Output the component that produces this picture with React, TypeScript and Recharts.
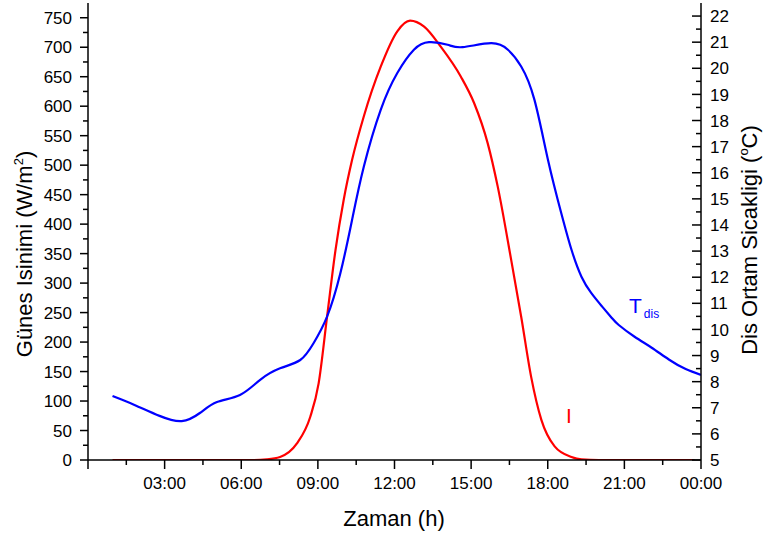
import { LineChart, Line, XAxis, YAxis } from 'recharts'

// outdoor temperature (°C), right axis
const tempHours = [0.96, 1.82, 2.8, 3.67, 4.38, 5.05, 5.95, 6.74, 7.52, 8.31, 8.83, 9.36, 9.88, 10.34, 10.8, 11.46, 12.11, 12.76, 13.35, 14.08, 14.67, 15.78, 16.44, 16.96, 17.48, 18.01, 18.53, 18.93, 19.32, 19.7, 20.11, 20.5, 20.78, 21.4, 22.07, 22.74, 23.4, 24]
const tempValues = [7.45, 7.11, 6.69, 6.49, 6.8, 7.22, 7.49, 8.07, 8.51, 8.83, 9.47, 10.49, 12.15, 14.2, 16.24, 18.41, 19.82, 20.71, 21.0, 20.9, 20.81, 20.96, 20.71, 20.07, 18.79, 16.49, 14.45, 13.05, 12.02, 11.4, 10.9, 10.45, 10.17, 9.72, 9.3, 8.85, 8.48, 8.26]

// solar radiation (W/m2), left axis
const radHours = [0.96, 3, 5, 6.5, 7.0, 7.52, 8.18, 8.7, 9.03, 9.36, 9.69, 10.01, 10.34, 10.8, 11.46, 12.11, 12.61, 13.16, 13.81, 14.6, 15.12, 15.65, 16.04, 16.57, 16.96, 17.35, 17.75, 18.27, 18.93, 19.32, 20, 22, 23.75]
const radValues = [0, 0, 0, 0, 1, 5, 28, 73, 130, 243, 356, 441, 509, 583, 667, 727, 745, 735, 701, 650, 605, 537, 464, 339, 243, 141, 68, 23, 5, 1, 0, 0, 0]

const xTicks = [0, 1.5, 3, 4.5, 6, 7.5, 9, 10.5, 12, 13.5, 15, 16.5, 18, 19.5, 21, 22.5, 24]
const xLabels: Record<number, string> = { 3: '03:00', 6: '06:00', 9: '09:00', 12: '12:00', 15: '15:00', 18: '18:00', 21: '21:00', 24: '00:00' }
const leftTicks = [0, 25, 50, 75, 100, 125, 150, 175, 200, 225, 250, 275, 300, 325, 350, 375, 400, 425, 450, 475, 500, 525, 550, 575, 600, 625, 650, 675, 700, 725, 750]
const rightTicks = [5, 5.5, 6, 6.5, 7, 7.5, 8, 8.5, 9, 9.5, 10, 10.5, 11, 11.5, 12, 12.5, 13, 13.5, 14, 14.5, 15, 15.5, 16, 16.5, 17, 17.5, 18, 18.5, 19, 19.5, 20, 20.5, 21, 21.5, 22]

const tempData = tempHours.map((h, i) => ({ h, t: tempValues[i] }))
const radData = radHours.map((h, i) => ({ h, r: radValues[i] }))

const FONT = '"Liberation Sans", Arial, sans-serif'
const TICK_SIZE = 17
const TITLE_SIZE = 22

const LeftTick = ({ x, y, payload }: any) => {
  const v = payload.value
  const major = v % 50 === 0
  return (
    <g>
      <line x1={x - (major ? 8 : 5)} x2={x} y1={y} y2={y} stroke="#000" strokeWidth={1.5} />
      {major && (
        <text x={x - 16} y={y} dy="0.36em" textAnchor="end" fontSize={TICK_SIZE} fontFamily={FONT} fill="#000">
          {v}
        </text>
      )}
    </g>
  )
}

const RightTick = ({ x, y, payload }: any) => {
  const v = payload.value
  const major = v % 1 === 0
  return (
    <g>
      <line x1={x - (major ? 9 : 5)} x2={x} y1={y} y2={y} stroke="#000" strokeWidth={1.5} />
      {major && (
        <text x={x + 9} y={y} dy="0.36em" textAnchor="start" fontSize={TICK_SIZE} fontFamily={FONT} fill="#000">
          {v}
        </text>
      )}
    </g>
  )
}

const BottomTick = ({ x, y, payload }: any) => {
  const v = payload.value
  const major = v % 3 === 0
  return (
    <g>
      <line x1={x} x2={x} y1={y} y2={y + (major ? 9 : 5)} stroke="#000" strokeWidth={1.5} />
      {xLabels[v] && (
        <text x={x} y={y + 29} textAnchor="middle" fontSize={TICK_SIZE} fontFamily={FONT} fill="#000">
          {xLabels[v]}
        </text>
      )}
    </g>
  )
}

export default function App() {
  return (
    <div style={{ position: 'absolute', left: 0, top: 0, width: 766, height: 536, background: '#fff' }}>
      <LineChart width={766} height={536} margin={{ top: 3, right: 0, bottom: 0, left: 0 }}>
        <XAxis
          dataKey="h"
          type="number"
          domain={[0, 24]}
          ticks={xTicks}
          interval={0}
          height={76}
          tickSize={0}
          tickMargin={0}
          tickLine={false}
          tick={<BottomTick />}
          axisLine={{ stroke: '#000', strokeWidth: 1.5 }}
          allowDataOverflow
        />
        <YAxis
          yAxisId="left"
          domain={[0, 775]}
          ticks={leftTicks}
          interval={0}
          width={88}
          tickSize={0}
          tickMargin={0}
          tickLine={false}
          tick={<LeftTick />}
          axisLine={{ stroke: '#000', strokeWidth: 1.5 }}
          allowDataOverflow
        />
        <YAxis
          yAxisId="right"
          orientation="right"
          domain={[5, 22.5]}
          ticks={rightTicks}
          interval={0}
          width={65}
          tickSize={0}
          tickMargin={0}
          tickLine={false}
          tick={<RightTick />}
          axisLine={{ stroke: '#000', strokeWidth: 1.5 }}
          allowDataOverflow
        />
        <Line
          yAxisId="left"
          data={radData}
          dataKey="r"
          type="monotone"
          stroke="#ff0000"
          strokeWidth={2.2}
          dot={false}
          isAnimationActive={false}
        />
        <Line
          yAxisId="right"
          data={tempData}
          dataKey="t"
          type="natural"
          stroke="#0000ff"
          strokeWidth={2.2}
          dot={false}
          isAnimationActive={false}
        />
      </LineChart>
      <svg width={766} height={536} style={{ position: 'absolute', left: 0, top: 0, pointerEvents: 'none' }}>
        <text transform="translate(32,254) rotate(-90)" textAnchor="middle" fontSize={TITLE_SIZE} fontFamily={FONT} fill="#000">
          Günes Isinimi (W/m<tspan dy={-9} fontSize={13}>2</tspan>
          <tspan dy={9}>)</tspan>
        </text>
        <text transform="translate(757,240) rotate(-90)" textAnchor="middle" fontSize={TITLE_SIZE} fontFamily={FONT} fill="#000">
          Dis Ortam Sicakligi (<tspan dy={-9} fontSize={13}>o</tspan>
          <tspan dy={9}>C)</tspan>
        </text>
        <text x={394} y={526} textAnchor="middle" fontSize={TITLE_SIZE} fontFamily={FONT} fill="#000">
          Zaman (h)
        </text>
        <text x={569} y={423} textAnchor="middle" fontSize={21} fontFamily={FONT} fill="#ff0000">
          I
        </text>
        <text x={629} y={313} fontSize={21} fontFamily={FONT} fill="#0000ff">
          T<tspan dx={2} dy={5} fontSize={12}>dis</tspan>
        </text>
      </svg>
    </div>
  )
}
